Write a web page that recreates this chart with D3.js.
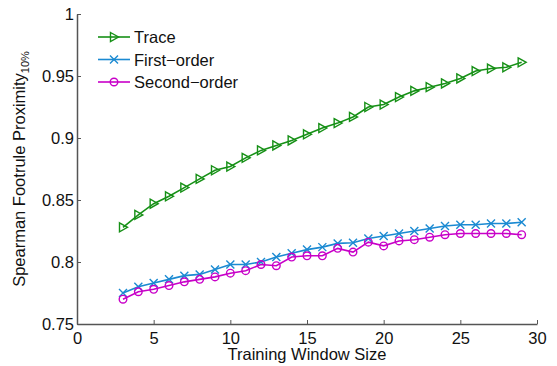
<!DOCTYPE html>
<html>
<head>
<meta charset="utf-8">
<script src="https://cdn.jsdelivr.net/npm/d3@7"></script>
<style>
  body { margin: 0; background: #fff; }
  text { font-family: "Liberation Sans", Arial, sans-serif; }
</style>
</head>
<body>
<div id="chart"></div>
<script>
// window sizes 3..29
const windowSizes = d3.range(3, 30);
const trace = [0.828, 0.838, 0.847, 0.853, 0.860, 0.867, 0.874, 0.877, 0.884, 0.890,
  0.894, 0.898, 0.903, 0.908, 0.912, 0.917, 0.925, 0.927, 0.933, 0.938,
  0.941, 0.944, 0.948, 0.954, 0.956, 0.957, 0.961];
const firstOrder = [0.775, 0.780, 0.783, 0.786, 0.789, 0.790, 0.794, 0.798, 0.798, 0.800,
  0.804, 0.807, 0.810, 0.812, 0.815, 0.8155, 0.819, 0.821, 0.823, 0.825,
  0.827, 0.829, 0.830, 0.830, 0.831, 0.831, 0.832];
const secondOrder = [0.770, 0.776, 0.778, 0.781, 0.784, 0.786, 0.788, 0.791, 0.793, 0.798,
  0.797, 0.804, 0.805, 0.805, 0.811, 0.808, 0.816, 0.813, 0.817, 0.818,
  0.820, 0.822, 0.823, 0.823, 0.823, 0.823, 0.822];
const xTicks = [0, 5, 10, 15, 20, 25, 30];
const yTicks = [0.75, 0.8, 0.85, 0.9, 0.95, 1];

const series = [
  { name: "Trace", values: trace, color: "#169016", marker: "tri" },
  { name: "First\u2212order", values: firstOrder, color: "#1b8ad2", marker: "x" },
  { name: "Second\u2212order", values: secondOrder, color: "#c800c8", marker: "circle" }
];

const width = 557, height = 366;
const margin = { left: 77, right: 20, top: 14, bottom: 42 };
const fs = 16.5;

const svg = d3.select("#chart").append("svg")
  .attr("width", width)
  .attr("height", height);

const x = d3.scaleLinear().domain([0, 30]).range([margin.left, width - margin.right]);
const y = d3.scaleLinear().domain([0.75, 1]).range([height - margin.bottom, margin.top]);

const axisColor = "#555";

// bottom axis (ticks pointing in)
const gx = svg.append("g")
  .attr("transform", `translate(0,${y(0.75)})`)
  .call(d3.axisBottom(x).tickValues(xTicks).tickSizeInner(-4).tickSizeOuter(0).tickPadding(8));
gx.select(".domain").attr("stroke", axisColor).attr("stroke-width", 1.5);
gx.selectAll(".tick line").attr("stroke", axisColor);
gx.selectAll(".tick text").attr("font-size", fs).attr("fill", "#111");

const gy = svg.append("g")
  .attr("transform", `translate(${x(0)},0)`)
  .call(d3.axisLeft(y).tickValues(yTicks).tickFormat(d3.format("")).tickSizeInner(-4).tickSizeOuter(0).tickPadding(3));
gy.select(".domain").attr("stroke", axisColor).attr("stroke-width", 1.5);
gy.selectAll(".tick line").attr("stroke", axisColor);
gy.selectAll(".tick text").attr("font-size", fs).attr("fill", "#111");

// axis labels
svg.append("text")
  .attr("x", x(15))
  .attr("y", 360)
  .attr("text-anchor", "middle")
  .attr("font-size", fs)
  .attr("fill", "#111")
  .text("Training Window Size");

const yl = svg.append("text")
  .attr("transform", `translate(25,${(y(0.75) + y(1)) / 2}) rotate(-90)`)
  .attr("text-anchor", "middle")
  .attr("font-size", fs)
  .attr("fill", "#111");
yl.append("tspan").text("Spearman Footrule Proximity");
yl.append("tspan").attr("font-size", 11).attr("dy", 4).text("10%");

function drawMarker(g, type, color) {
  if (type === "tri") {
    g.append("path").attr("d", "M-3.5,-4.5L4.5,0L-3.5,4.5Z")
      .attr("fill", "none").attr("stroke", color).attr("stroke-width", 1.4);
  } else if (type === "x") {
    g.append("path").attr("d", "M-4,-4L4,4M-4,4L4,-4")
      .attr("fill", "none").attr("stroke", color).attr("stroke-width", 1.4);
  } else {
    g.append("circle").attr("r", 3.8)
      .attr("fill", "none").attr("stroke", color).attr("stroke-width", 1.4);
  }
}

const line = d3.line().x((d, i) => x(windowSizes[i])).y(d => y(d));

series.forEach(s => {
  svg.append("path")
    .datum(s.values)
    .attr("fill", "none")
    .attr("stroke", s.color)
    .attr("stroke-width", 1.6)
    .attr("d", line);
  s.values.forEach((v, i) => {
    const g = svg.append("g").attr("transform", `translate(${x(windowSizes[i])},${y(v)})`);
    drawMarker(g, s.marker, s.color);
  });
});

// legend
const legend = svg.append("g").attr("transform", "translate(98,37)");
series.forEach((s, i) => {
  const row = legend.append("g").attr("transform", `translate(0,${i * 22.5})`);
  row.append("line").attr("x1", 0).attr("x2", 32).attr("y1", 0).attr("y2", 0)
    .attr("stroke", s.color).attr("stroke-width", 1.6);
  const m = row.append("g").attr("transform", "translate(16,0)");
  drawMarker(m, s.marker, s.color);
  row.append("text").attr("x", 36).attr("y", 6)
    .attr("font-size", fs).attr("fill", "#111").text(s.name);
});
</script>
</body>
</html>
